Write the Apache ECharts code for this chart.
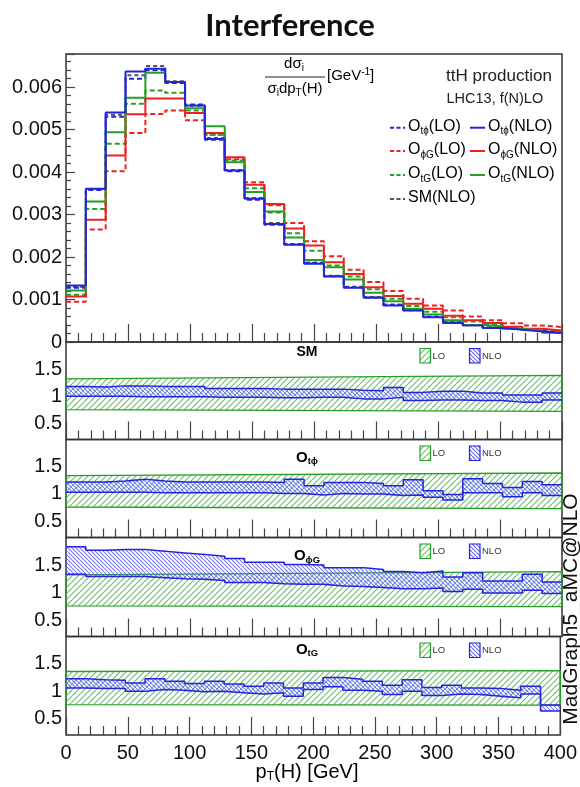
<!DOCTYPE html>
<html>
<head>
<meta charset="utf-8">
<script src="https://cdn.jsdelivr.net/npm/echarts@6/dist/echarts.min.js"></script>
<style>
html, body { margin: 0; background: #fff; }
#chart { width: 580px; height: 787px; }
</style>
</head>
<body>
<div id="chart"></div>
<script>
// bin edges of pT(H) in GeV
const binEdges = [0, 16, 32, 48, 64, 80, 96, 112, 128, 144, 160, 176, 192, 208, 224, 240, 256, 272, 288, 304, 320, 336, 352, 368, 384, 400];

// normalised distributions, 1/sigma dsigma/dpT
const tphLO  = [0.00128, 0.00358, 0.00530, 0.00620, 0.00640, 0.00610, 0.00559, 0.00476, 0.00402, 0.00335, 0.00276, 0.00230, 0.00186, 0.00155, 0.00129, 0.00105, 0.00087, 0.00075, 0.00059, 0.00046, 0.00040, 0.00034, 0.00030, 0.00026, 0.00022];
const tphNLO = [0.00133, 0.00361, 0.00540, 0.00637, 0.00643, 0.00612, 0.00557, 0.00478, 0.00404, 0.00337, 0.00278, 0.00229, 0.00184, 0.00154, 0.00128, 0.00104, 0.00086, 0.00074, 0.00058, 0.00045, 0.00039, 0.00033, 0.00029, 0.00025, 0.00021];
const phgLO  = [0.00095, 0.00265, 0.00402, 0.00492, 0.00537, 0.00545, 0.00522, 0.00488, 0.00430, 0.00376, 0.00322, 0.00280, 0.00237, 0.00202, 0.00170, 0.00141, 0.00120, 0.00102, 0.00086, 0.00074, 0.00060, 0.00051, 0.00044, 0.00039, 0.00035];
const phgNLO = [0.00107, 0.00288, 0.00439, 0.00536, 0.00573, 0.00573, 0.00539, 0.00492, 0.00435, 0.00370, 0.00325, 0.00267, 0.00227, 0.00188, 0.00160, 0.00129, 0.00108, 0.00090, 0.00078, 0.00062, 0.00051, 0.00045, 0.00036, 0.00031, 0.00027];
const tgLO   = [0.00111, 0.00313, 0.00467, 0.00561, 0.00592, 0.00587, 0.00545, 0.00488, 0.00427, 0.00362, 0.00305, 0.00256, 0.00215, 0.00180, 0.00154, 0.00124, 0.00102, 0.00085, 0.00071, 0.00058, 0.00048, 0.00042, 0.00035, 0.00030, 0.00026];
const tgNLO  = [0.00121, 0.00331, 0.00494, 0.00575, 0.00634, 0.00612, 0.00550, 0.00508, 0.00423, 0.00353, 0.00307, 0.00246, 0.00193, 0.00176, 0.00147, 0.00116, 0.00096, 0.00078, 0.00065, 0.00051, 0.00040, 0.00037, 0.00031, 0.00027, 0.00022];
const smNLO  = [0.00130, 0.00360, 0.00535, 0.00628, 0.00650, 0.00614, 0.00556, 0.00480, 0.00405, 0.00339, 0.00280, 0.00231, 0.00187, 0.00156, 0.00130, 0.00106, 0.00088, 0.00076, 0.00060, 0.00047, 0.00040, 0.00034, 0.00030, 0.00026, 0.00022];

// NLO scale band (ratio), upper / lower edges per bin
const smUp  = [1.18, 1.17, 1.19, 1.19, 1.18, 1.18, 1.18, 1.14, 1.14, 1.14, 1.13, 1.13, 1.13, 1.13, 1.11, 1.10, 1.16, 1.07, 1.09, 1.09, 1.06, 1.06, 1.02, 1.02, 1.06];
const smDn  = [1.00, 1.00, 1.00, 0.99, 0.99, 0.99, 0.99, 0.98, 0.98, 0.98, 0.97, 0.97, 0.98, 0.98, 0.95, 0.95, 0.98, 0.92, 0.93, 0.93, 0.92, 0.92, 0.89, 0.89, 0.93];
const tphUp = [1.22, 1.22, 1.24, 1.27, 1.24, 1.22, 1.22, 1.22, 1.22, 1.22, 1.21, 1.27, 1.15, 1.21, 1.21, 1.19, 1.15, 1.26, 1.06, 0.99, 1.28, 1.19, 1.12, 1.23, 1.17];
const tphDn = [1.03, 1.03, 1.03, 1.03, 1.02, 1.02, 1.02, 1.02, 1.02, 1.02, 1.01, 1.01, 0.98, 1.01, 1.00, 1.00, 0.97, 0.98, 0.94, 0.89, 1.02, 1.02, 0.95, 1.02, 0.97];
const phgUp = [1.83, 1.77, 1.78, 1.78, 1.75, 1.72, 1.69, 1.66, 1.62, 1.55, 1.55, 1.51, 1.50, 1.45, 1.45, 1.42, 1.38, 1.36, 1.39, 1.28, 1.36, 1.21, 1.21, 1.33, 1.19];
const phgDn = [1.33, 1.29, 1.29, 1.29, 1.27, 1.25, 1.24, 1.22, 1.18, 1.18, 1.16, 1.15, 1.15, 1.12, 1.11, 1.09, 1.07, 1.07, 1.08, 1.02, 1.06, 0.99, 0.99, 1.04, 0.98];
const tgUp  = [1.23, 1.21, 1.20, 1.15, 1.23, 1.18, 1.14, 1.18, 1.13, 1.09, 1.15, 1.06, 1.15, 1.25, 1.22, 1.18, 1.11, 1.21, 1.07, 1.11, 1.06, 1.05, 1.02, 1.09, 0.75];
const tgDn  = [1.06, 1.05, 1.05, 1.00, 1.03, 1.02, 0.99, 1.00, 0.97, 0.95, 0.97, 0.91, 1.03, 1.08, 1.02, 1.00, 0.94, 1.00, 0.92, 0.95, 0.94, 0.91, 0.88, 0.95, 0.64];

// LO band, values at pT = 0 and pT = 400
const loEnds   = [0, 400];
const smLoUp   = [1.32, 1.385];
const smLoDn   = [0.75, 0.72];
const tphLoUp  = [1.335, 1.385];
const tphLoDn  = [0.76, 0.73];
const phgLoUp  = [1.32, 1.38];
const phgLoDn  = [0.756, 0.745];
const tgLoUp   = [1.36, 1.375];
const tgLoDn   = [0.755, 0.745];

const F = '"Liberation Sans", Arial, sans-serif';
const BLUE = '#2424dc', RED = '#ee2020', GREEN = '#24a024', GRAY = '#555555';

function steps(vals) {
  return vals.map((v, i) => [binEdges[i], v]).concat([[binEdges[vals.length], vals[vals.length - 1]]]);
}

// diagonal hatch drawn into a small tile; 'back' gives \\\ instead of ///
function hatch(color, size, back) {
  const c = document.createElement('canvas');
  c.width = c.height = size;
  const g = c.getContext('2d');
  g.strokeStyle = color;
  g.lineWidth = 1.1;
  g.beginPath();
  for (let k = -1; k <= 1; k++) {
    if (back) { g.moveTo(k * size, 0); g.lineTo(k * size + size, size); }
    else { g.moveTo(k * size, size); g.lineTo(k * size + size, 0); }
  }
  g.stroke();
  return { image: c, repeat: 'repeat' };
}
const loFill = hatch('#5cc85c', 6, false);
const nloFill = hatch('#6464ee', 4, true);

const ratioTops = [342, 439.5, 537.5, 636.5];
const ratioHeights = [97.5, 98, 99, 98.5];

const panels = [
  { up: smUp, dn: smDn, loUp: smLoUp, loDn: smLoDn, title: '{b|SM}', ty: 352 },
  { up: tphUp, dn: tphDn, loUp: tphLoUp, loDn: tphLoDn, title: '{o|O}{s|tϕ}', ty: 457.5 },
  { up: phgUp, dn: phgDn, loUp: phgLoUp, loDn: phgLoDn, title: '{o|O}{s|ϕG}', ty: 556 },
  { up: tgUp, dn: tgDn, loUp: tgLoUp, loDn: tgLoDn, title: '{o|O}{s|tG}', ty: 649.5 }
];

const grids = [{ left: 66, top: 54, width: 496, height: 288, show: true, borderColor: '#333', borderWidth: 1.5 }];
ratioTops.forEach((t, i) => grids.push({ left: 66, top: t, width: 496, height: ratioHeights[i], show: true, borderColor: '#333', borderWidth: 1.5 }));

const tickStyle = { color: '#444', width: 1.2 };
const xAxes = grids.map((g, i) => ({
  type: 'value', gridIndex: i, min: 0, max: 400, interval: 50,
  axisLine: { show: false }, splitLine: { show: false },
  axisTick: { show: true, inside: true, length: 18, lineStyle: tickStyle },
  minorTick: { show: true, splitNumber: 5, length: 9, lineStyle: tickStyle },
  axisLabel: { show: i === 4, fontSize: 20, fontFamily: F, color: '#111', margin: 8 }
}));

const yAxes = [{
  type: 'value', gridIndex: 0, min: 0, max: 0.00678, interval: 0.001,
  axisLine: { show: false }, splitLine: { show: false },
  axisTick: { show: true, inside: true, length: 9, lineStyle: tickStyle },
  minorTick: { show: true, splitNumber: 5, length: 5, lineStyle: tickStyle },
  axisLabel: { fontSize: 20, fontFamily: F, color: '#111', margin: 4, showMaxLabel: false,
    formatter: v => v === 0 ? '0' : v.toFixed(3) }
}];
for (let i = 1; i <= 4; i++) {
  yAxes.push({
    type: 'value', gridIndex: i, min: 0.2, max: 2.0, interval: 0.1,
    axisLine: { show: false }, splitLine: { show: false }, axisTick: { show: false },
    axisLabel: { fontSize: 20, fontFamily: F, color: '#111', margin: 4,
      formatter: v => { const r = Math.round(v * 10) / 10; return (r === 0.5 || r === 1 || r === 1.5) ? String(r) : ''; } }
  });
}

const series = [];
const mainDefs = [
  [smNLO, GRAY, [4, 3]], [phgLO, RED, [5, 3]], [tgLO, GREEN, [5, 3]], [tphLO, BLUE, [5, 3]],
  [phgNLO, RED, 'solid'], [tgNLO, GREEN, 'solid'], [tphNLO, BLUE, 'solid']
];
mainDefs.forEach(d => series.push({
  type: 'line', xAxisIndex: 0, yAxisIndex: 0, step: 'end', showSymbol: false, silent: true,
  data: steps(d[0]), lineStyle: { color: d[1], width: 2, type: d[2] }, z: 3
}));

panels.forEach((p, k) => {
  const gi = k + 1;
  series.push({
    type: 'custom', xAxisIndex: gi, yAxisIndex: gi, silent: true, z: 2,
    data: [[loEnds[0], loEnds[1], p.loDn[0], p.loUp[0], p.loDn[1], p.loUp[1]]],
    encode: { x: [0, 1], y: [2, 3, 4, 5] },
    renderItem: (params, api) => ({
      type: 'polygon',
      shape: { points: [
        api.coord([api.value(0), api.value(3)]), api.coord([api.value(1), api.value(5)]),
        api.coord([api.value(1), api.value(4)]), api.coord([api.value(0), api.value(2)])
      ] },
      style: { fill: loFill, stroke: GREEN, lineWidth: 1.3 }
    })
  });
  series.push({
    type: 'custom', xAxisIndex: gi, yAxisIndex: gi, silent: true, z: 3,
    data: p.dn.map((d, i) => [binEdges[i], binEdges[i + 1], d, p.up[i]]),
    encode: { x: [0, 1], y: [2, 3] },
    renderItem: (params, api) => {
      const a = api.coord([api.value(0), api.value(3)]);
      const b = api.coord([api.value(1), api.value(2)]);
      return { type: 'rect', shape: { x: a[0], y: a[1], width: b[0] - a[0], height: b[1] - a[1] }, style: { fill: nloFill, opacity: 0.85 } };
    }
  });
  [p.up, p.dn].forEach(arr => series.push({
    type: 'line', xAxisIndex: gi, yAxisIndex: gi, step: 'end', showSymbol: false, silent: true, z: 4,
    data: steps(arr), lineStyle: { color: BLUE, width: 1.5 }
  }));
});

const richLeg = {
  o: { fontSize: 16, fontFamily: F, color: '#222', lineHeight: 20, verticalAlign: 'middle' },
  s: { fontSize: 10, fontFamily: F, color: '#222', lineHeight: 10, verticalAlign: 'bottom' }
};
const legRows = [126.7, 150, 174, 198];
const legDefs = [
  [0, 0, BLUE, [4, 2.5], '{o|O}{s|tϕ}{o|(LO)}'], [1, 0, BLUE, 'solid', '{o|O}{s|tϕ}{o|(NLO)}'],
  [0, 1, RED, [4, 2.5], '{o|O}{s|ϕG}{o|(LO)}'], [1, 1, RED, 'solid', '{o|O}{s|ϕG}{o|(NLO)}'],
  [0, 2, GREEN, [4, 2.5], '{o|O}{s|tG}{o|(LO)}'], [1, 2, GREEN, 'solid', '{o|O}{s|tG}{o|(NLO)}'],
  [0, 3, GRAY, [4, 2.5], '{o|SM(NLO)}']
];
const graphic = [];
legDefs.forEach(d => {
  const x0 = d[0] === 0 ? 390 : 470;
  const y = legRows[d[1]];
  graphic.push({ type: 'line', shape: { x1: x0, y1: y + 1, x2: x0 + 15, y2: y + 1 },
    style: { stroke: d[2], lineWidth: 2, lineDash: d[3] === 'solid' ? null : d[3] } });
  graphic.push({ type: 'text', x: x0 + 18, y: y, style: { text: d[4], rich: richLeg, align: 'left', verticalAlign: 'middle' } });
});

const richFrac = {
  a: { fontSize: 15, fontFamily: F, color: '#222', lineHeight: 18, verticalAlign: 'middle' },
  s: { fontSize: 10, fontFamily: F, color: '#222', lineHeight: 9, verticalAlign: 'bottom' },
  p: { fontSize: 10, fontFamily: F, color: '#222', lineHeight: 9, verticalAlign: 'top' }
};
graphic.push(
  { type: 'text', x: 294, y: 64, style: { text: '{a|dσ}{s|i}', rich: richFrac, align: 'center', verticalAlign: 'middle' } },
  { type: 'line', shape: { x1: 265, y1: 77, x2: 325, y2: 77 }, style: { stroke: '#222', lineWidth: 1 } },
  { type: 'text', x: 295, y: 89, style: { text: '{a|σ}{s|i}{a|dp}{s|T}{a|(H)}', rich: richFrac, align: 'center', verticalAlign: 'middle' } },
  { type: 'text', x: 327, y: 76, style: { text: '{a|[GeV}{p|-1}{a|]}', rich: richFrac, align: 'left', verticalAlign: 'middle' } },
  { type: 'text', x: 446, y: 76, style: { text: 'ttH production', font: '17px ' + F, fill: '#222', align: 'left', verticalAlign: 'middle' } },
  { type: 'text', x: 446.5, y: 99, style: { text: 'LHC13, f(N)LO', font: '14.5px ' + F, fill: '#222', align: 'left', verticalAlign: 'middle' } }
);

const richTitle = {
  b: { fontSize: 14, fontWeight: 'bold', fontFamily: F, color: '#111', lineHeight: 18, verticalAlign: 'middle' },
  o: { fontSize: 15, fontWeight: 'bold', fontFamily: F, color: '#111', lineHeight: 18, verticalAlign: 'middle' },
  s: { fontSize: 9.5, fontWeight: 'bold', fontFamily: F, color: '#111', lineHeight: 9, verticalAlign: 'bottom' }
};
panels.forEach((p, k) => {
  const t = ratioTops[k];
  graphic.push({ type: 'text', x: 307, y: p.ty, style: { text: p.title, rich: richTitle, align: 'center', verticalAlign: 'middle' } });
  graphic.push({ type: 'rect', shape: { x: 420, y: t + 6.5, width: 10.5, height: 14.5 }, style: { fill: loFill, stroke: GREEN, lineWidth: 1.2 } });
  graphic.push({ type: 'text', x: 432.5, y: t + 14, style: { text: 'LO', font: '9.5px ' + F, fill: '#333', align: 'left', verticalAlign: 'middle' } });
  graphic.push({ type: 'rect', shape: { x: 469.5, y: t + 6.5, width: 10.5, height: 14.5 }, style: { fill: nloFill, stroke: BLUE, lineWidth: 1.2 } });
  graphic.push({ type: 'text', x: 482, y: t + 14, style: { text: 'NLO', font: '9.5px ' + F, fill: '#333', align: 'left', verticalAlign: 'middle' } });
});

graphic.push(
  { type: 'text', x: 307, y: 772, style: { text: '{a|p}{s|T}{a|(H) [GeV]}', align: 'center', verticalAlign: 'middle',
    rich: { a: { fontSize: 20, fontFamily: F, color: '#111', lineHeight: 22, verticalAlign: 'middle' },
            s: { fontSize: 12, fontFamily: F, color: '#111', lineHeight: 11, verticalAlign: 'bottom' } } } },
  { type: 'text', x: 571, y: 609, rotation: Math.PI / 2,
    style: { text: 'MadGraph5_aMC@NLO', font: '21px ' + F, fill: '#111', align: 'center', verticalAlign: 'middle' } }
);

const chart = echarts.init(document.getElementById('chart'));
chart.setOption({
  animation: false,
  backgroundColor: '#fff',
  title: { text: 'Interference', left: 'center', top: 5,
    textStyle: { fontFamily: 'Lato', fontWeight: 'bold', fontSize: 31, color: '#111' } },
  grid: grids,
  xAxis: xAxes,
  yAxis: yAxes,
  series: series,
  graphic: graphic
});
</script>
</body>
</html>
